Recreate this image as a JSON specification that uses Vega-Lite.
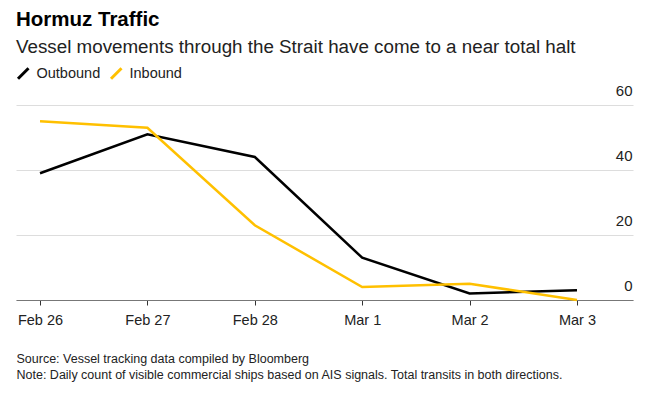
{
  "$schema": "https://vega.github.io/schema/vega-lite/v6.json",
  "width": 617,
  "height": 195,
  "autosize": {"type": "none"},
  "padding": {"left": 16, "top": 105, "right": 18, "bottom": 95},
  "background": "white",
  "title": {
    "text": "Hormuz Traffic",
    "subtitle": "Vessel movements through the Strait have come to a near total halt",
    "anchor": "start",
    "frame": "group",
    "font": "Liberation Sans",
    "fontSize": 20.5,
    "fontWeight": "bold",
    "color": "#000000",
    "subtitleFont": "Liberation Sans",
    "subtitleFontSize": 18.8,
    "subtitleColor": "#222222",
    "subtitlePadding": 8,
    "offset": 10,
    "dy": 1
  },
  "data": {
    "values": [
      {"date": "2026-02-26", "direction": "Outbound", "count": 39},
      {"date": "2026-02-27", "direction": "Outbound", "count": 51},
      {"date": "2026-02-28", "direction": "Outbound", "count": 44},
      {"date": "2026-03-01", "direction": "Outbound", "count": 13},
      {"date": "2026-03-02", "direction": "Outbound", "count": 2},
      {"date": "2026-03-03", "direction": "Outbound", "count": 3},
      {"date": "2026-02-26", "direction": "Inbound", "count": 55},
      {"date": "2026-02-27", "direction": "Inbound", "count": 53},
      {"date": "2026-02-28", "direction": "Inbound", "count": 23},
      {"date": "2026-03-01", "direction": "Inbound", "count": 4},
      {"date": "2026-03-02", "direction": "Inbound", "count": 5},
      {"date": "2026-03-03", "direction": "Inbound", "count": 0}
    ]
  },
  "mark": {"type": "line", "strokeWidth": 2.5, "strokeJoin": "miter"},
  "encoding": {
    "x": {
      "field": "date",
      "type": "temporal",
      "scale": {
        "type": "utc",
        "domain": [
          {"year": 2026, "month": 2, "date": 25, "hours": 18, "minutes": 38, "utc": true},
          {"year": 2026, "month": 3, "date": 3, "hours": 12, "minutes": 31, "utc": true}
        ]
      },
      "axis": {
        "values": [
          {"year": 2026, "month": 2, "date": 26, "utc": true},
          {"year": 2026, "month": 2, "date": 27, "utc": true},
          {"year": 2026, "month": 2, "date": 28, "utc": true},
          {"year": 2026, "month": 3, "date": 1, "utc": true},
          {"year": 2026, "month": 3, "date": 2, "utc": true},
          {"year": 2026, "month": 3, "date": 3, "utc": true}
        ],
        "labelExpr": "utcFormat(datum.value, '%b %-d')",
        "grid": false,
        "domainColor": "#777777",
        "domainWidth": 1,
        "tickColor": "#333333",
        "tickSize": 5,
        "labelPadding": 8,
        "labelFont": "Liberation Sans",
        "labelFontSize": 14.5,
        "labelColor": "#222222",
        "title": [
          "Source: Vessel tracking data compiled by Bloomberg",
          "Note: Daily count of visible commercial ships based on AIS signals. Total transits in both directions."
        ],
        "titleFont": "Liberation Sans",
        "titleFontSize": 12.5,
        "titleFontWeight": "normal",
        "titleColor": "#222222",
        "titleAnchor": "start",
        "titleAlign": "left",
        "titleBaseline": "top",
        "titleX": 0,
        "titleY": 52,
        "titleLineHeight": 16
      }
    },
    "y": {
      "field": "count",
      "type": "quantitative",
      "scale": {"domain": [0, 60]},
      "axis": {
        "orient": "right",
        "values": [0, 20, 40, 60],
        "domain": false,
        "ticks": false,
        "tickSize": 0,
        "gridColor": "#dddddd",
        "gridWidth": 1,
        "labelAlign": "right",
        "labelBaseline": "bottom",
        "labelPadding": -1,
        "labelOffset": -7,
        "labelFont": "Liberation Sans",
        "labelFontSize": 15,
        "labelColor": "#222222",
        "title": null
      }
    },
    "color": {
      "field": "direction",
      "type": "nominal",
      "scale": {"domain": ["Outbound", "Inbound"], "range": ["#000000", "#ffc000"]},
      "legend": {
        "orient": "none",
        "direction": "horizontal",
        "legendX": 0,
        "legendY": -39,
        "title": null,
        "symbolType": "M-1,1L1,-1",
        "symbolStrokeWidth": 3,
        "symbolSize": 110,
        "labelFont": "Liberation Sans",
        "labelFontSize": 14.5,
        "labelColor": "#222222",
        "labelOffset": 6,
        "columnPadding": 4
      }
    }
  },
  "config": {"view": {"stroke": null}}
}
